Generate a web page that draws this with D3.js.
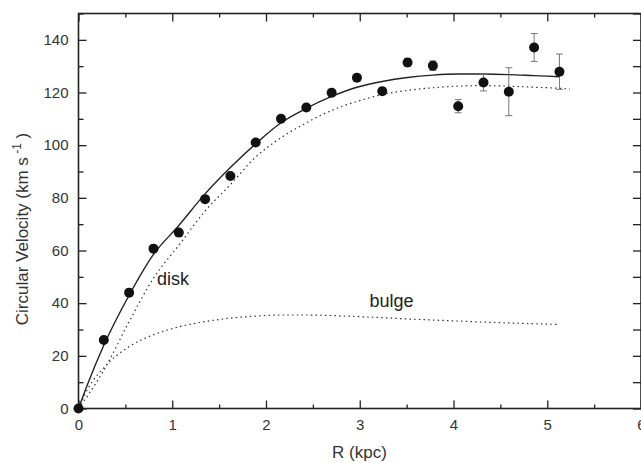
<!DOCTYPE html>
<html>
<head>
<meta charset="utf-8">
<script src="https://cdn.jsdelivr.net/npm/d3@7"></script>
<style>
  html, body { margin: 0; padding: 0; background: #fff; }
  svg { display: block; }
  text { font-family: "Liberation Sans", Arial, Helvetica, sans-serif; }
</style>
</head>
<body>
<svg id="chart" width="641" height="463"></svg>
<script>
// ---- data ----
const obsR   = [0, 0.27, 0.54, 0.80, 1.07, 1.35, 1.62, 1.89, 2.16, 2.43, 2.70, 2.97, 3.24, 3.51, 3.78, 4.05, 4.32, 4.59, 4.86, 5.13];
const obsV   = [0, 26, 44, 60.7, 66.8, 79.5, 88.3, 101, 110, 114.3, 119.9, 125.6, 120.5, 131.4, 130.2, 114.8, 123.8, 120.3, 137.1, 127.9];
const obsErr = [0, 0.8, 0.8, 0.8, 0.8, 0.8, 0.8, 0.9, 1.0, 1.2, 1.3, 1.2, 1.3, 1.5, 1.8, 2.5, 3.2, 9.1, 5.3, 6.7];

const totalR = [0, 0.10, 0.27, 0.54, 0.80, 1.07, 1.35, 1.62, 1.89, 2.16, 2.43, 2.70, 2.97, 3.24, 3.51, 3.78, 4.05, 4.32, 4.59, 4.86, 5.13];
const totalV = [0, 9.5, 24, 43, 58.5, 69.5, 81.5, 91.5, 100.5, 108.5, 114, 118.5, 122, 124.2, 125.7, 126.6, 127, 127, 126.8, 126.4, 126];

const diskR  = [0, 0.10, 0.27, 0.54, 0.80, 1.07, 1.35, 1.62, 1.89, 2.16, 2.43, 2.70, 2.97, 3.24, 3.51, 3.78, 4.05, 4.32, 4.59, 4.86, 5.13, 5.24];
const diskV  = [0, 5, 14.5, 33, 49.5, 62, 75, 85, 95.5, 102.8, 108.5, 113.2, 116.6, 119.2, 120.8, 121.8, 122.4, 122.6, 122.4, 122, 121.6, 121.3];

const bulgeR = [0, 0.10, 0.27, 0.54, 0.80, 1.07, 1.35, 1.62, 1.89, 2.16, 2.43, 2.70, 2.97, 3.24, 3.51, 3.78, 4.05, 4.32, 4.59, 4.86, 5.13];
const bulgeV = [0, 7.5, 15.5, 23.5, 28, 31, 33, 34.3, 35.1, 35.5, 35.5, 35.3, 34.9, 34.5, 34.0, 33.6, 33.2, 32.8, 32.5, 32.2, 31.9];

const xMajor = [0, 1, 2, 3, 4, 5, 6];
const xMinor = [0.5, 1.5, 2.5, 3.5, 4.5, 5.5];
const yMajor = [0, 20, 40, 60, 80, 100, 120, 140];
const yMinor = [10, 30, 50, 70, 90, 110, 130, 150];

const xLabel = "R (kpc)";
const yLabelMain = "Circular Velocity (km s";
const yLabelSup = " -1";
const yLabelEnd = " )";
const diskLabel = "disk";
const bulgeLabel = "bulge";

// ---- layout ----
const svg = d3.select("#chart");
const pL = 78.5, pR = 641, pT = 13.5, pB = 408.5;
const x = d3.scaleLinear().domain([0, 6]).range([pL, pR]);
const y = d3.scaleLinear().domain([0, 150]).range([pB, pT]);

const axisColor = "#222";
const labelColor = "#333";

function styleAxis(g) {
  g.select(".domain").remove();
  g.selectAll(".tick line").attr("stroke", axisColor).attr("stroke-width", 1.3);
  g.selectAll(".tick text").attr("fill", labelColor).style("font-size", "15px")
    .style("font-family", '"Liberation Sans", Arial, sans-serif');
}

// axes - left
svg.append("g").attr("transform", `translate(${pL},0)`)
  .call(d3.axisLeft(y).tickValues(yMajor).tickSize(-8).tickPadding(10).tickFormat(d3.format("d")))
  .call(styleAxis);
svg.append("g").attr("transform", `translate(${pL},0)`)
  .call(d3.axisLeft(y).tickValues(yMinor).tickSize(-5).tickFormat(""))
  .call(styleAxis);
// right
svg.append("g").attr("transform", `translate(${pR},0)`)
  .call(d3.axisRight(y).tickValues(yMajor).tickSize(-8).tickFormat(""))
  .call(styleAxis);
svg.append("g").attr("transform", `translate(${pR},0)`)
  .call(d3.axisRight(y).tickValues(yMinor).tickSize(-8).tickFormat(""))
  .call(styleAxis);
// bottom
svg.append("g").attr("transform", `translate(0,${pB})`)
  .call(d3.axisBottom(x).tickValues(xMajor).tickSize(-8).tickPadding(11).tickFormat(d3.format("d")))
  .call(styleAxis);
svg.append("g").attr("transform", `translate(0,${pB})`)
  .call(d3.axisBottom(x).tickValues(xMinor).tickSize(-4).tickFormat(""))
  .call(styleAxis);
// top
svg.append("g").attr("transform", `translate(0,${pT})`)
  .call(d3.axisTop(x).tickValues(xMajor).tickSize(-8).tickFormat(""))
  .call(styleAxis);
svg.append("g").attr("transform", `translate(0,${pT})`)
  .call(d3.axisTop(x).tickValues(xMinor).tickSize(-4).tickFormat(""))
  .call(styleAxis);

// frame
svg.append("rect").attr("x", pL).attr("y", pT)
  .attr("width", pR - pL).attr("height", pB - pT)
  .attr("fill", "none").attr("stroke", axisColor).attr("stroke-width", 1.6);

// ---- curves ----
const line = d3.line().x(d => x(d[0])).y(d => y(d[1])).curve(d3.curveMonotoneX);
const zip = (a, b) => a.map((v, i) => [v, b[i]]);

svg.append("path").datum(zip(bulgeR, bulgeV)).attr("d", line)
  .attr("fill", "none").attr("stroke", "#333").attr("stroke-width", 1.2)
  .attr("stroke-dasharray", "1.5,3.2");
svg.append("path").datum(zip(diskR, diskV)).attr("d", line)
  .attr("fill", "none").attr("stroke", "#333").attr("stroke-width", 1.2)
  .attr("stroke-dasharray", "1.5,3.2");
svg.append("path").datum(zip(totalR, totalV)).attr("d", line)
  .attr("fill", "none").attr("stroke", "#222").attr("stroke-width", 1.4);

// ---- error bars ----
const obs = obsR.map((r, i) => ({ r, v: obsV[i], e: obsErr[i] }));
const eb = svg.append("g").attr("stroke", "#777").attr("stroke-width", 1);
obs.filter(d => d.e > 0).forEach(d => {
  eb.append("line").attr("x1", x(d.r)).attr("x2", x(d.r)).attr("y1", y(d.v - d.e)).attr("y2", y(d.v + d.e));
  eb.append("line").attr("x1", x(d.r) - 3.5).attr("x2", x(d.r) + 3.5).attr("y1", y(d.v - d.e)).attr("y2", y(d.v - d.e));
  eb.append("line").attr("x1", x(d.r) - 3.5).attr("x2", x(d.r) + 3.5).attr("y1", y(d.v + d.e)).attr("y2", y(d.v + d.e));
});

// ---- points ----
svg.append("g").selectAll("circle").data(obs).join("circle")
  .attr("cx", d => x(d.r)).attr("cy", d => y(d.v)).attr("r", 5)
  .attr("fill", "#111");

// ---- labels ----
svg.append("text").attr("x", 173).attr("y", 285).attr("text-anchor", "middle")
  .attr("fill", "#222").style("font-size", "18px").text(diskLabel);
svg.append("text").attr("x", 391.5).attr("y", 307).attr("text-anchor", "middle")
  .attr("fill", "#222").style("font-size", "18px").text(bulgeLabel);

svg.append("text").attr("x", 359.5).attr("y", 458).attr("text-anchor", "middle")
  .attr("fill", labelColor).style("font-size", "17px").text(xLabel);

const yl = svg.append("text").attr("transform", `translate(28,${229}) rotate(-90)`)
  .attr("text-anchor", "middle").attr("fill", labelColor).style("font-size", "17px");
yl.append("tspan").text(yLabelMain);
yl.append("tspan").attr("dy", -7).style("font-size", "12px").text(yLabelSup);
yl.append("tspan").attr("dy", 7).text(yLabelEnd);
</script>
</body>
</html>
